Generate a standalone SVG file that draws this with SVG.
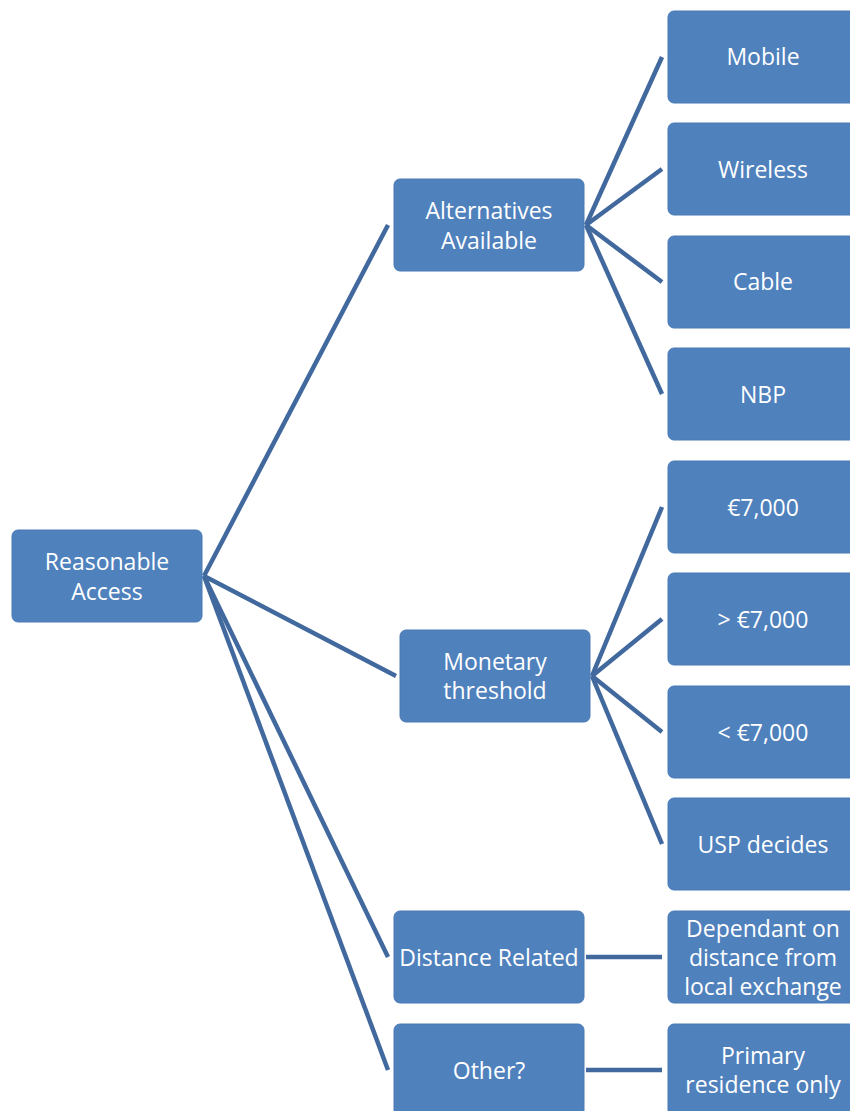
<svg xmlns="http://www.w3.org/2000/svg" width="850" height="1111" viewBox="0 0 850 1111">
<style>
.n{fill:#4f81bd;stroke:#4a7ab5;stroke-width:1}
.t{fill:#fff;font-family:"Open Sans",sans-serif;font-size:23px;text-anchor:middle;dominant-baseline:central}
.c{stroke:#41699e;stroke-width:4.5;fill:none}
</style>
<rect width="850" height="1111" fill="#fff"/>
<g id="connectors">
<line class="c" x1="204" y1="576" x2="388" y2="225"/>
<line class="c" x1="204" y1="576" x2="396" y2="676"/>
<line class="c" x1="204" y1="576" x2="388" y2="957"/>
<line class="c" x1="204" y1="576" x2="388" y2="1070"/>
<line class="c" x1="586" y1="225" x2="662" y2="57"/>
<line class="c" x1="586" y1="225" x2="662" y2="169"/>
<line class="c" x1="586" y1="225" x2="662" y2="282"/>
<line class="c" x1="586" y1="225" x2="662" y2="394"/>
<line class="c" x1="592" y1="676" x2="662" y2="507"/>
<line class="c" x1="592" y1="676" x2="662" y2="619"/>
<line class="c" x1="592" y1="676" x2="662" y2="732"/>
<line class="c" x1="592" y1="676" x2="662" y2="844"/>
<line class="c" x1="586" y1="957" x2="662" y2="957"/>
<line class="c" x1="586" y1="1070" x2="662" y2="1070"/>
</g>
<g id="root"><rect class="n" x="12" y="530" width="190" height="92" rx="6"/><text class="t" x="107" y="561">Reasonable</text><text class="t" x="107" y="591">Access</text></g>
<g id="alternatives"><rect class="n" x="394" y="179" width="190" height="92" rx="6"/><text class="t" x="489" y="210">Alternatives</text><text class="t" x="489" y="240">Available</text></g>
<g id="monetary"><rect class="n" x="400" y="630" width="190" height="92" rx="6"/><text class="t" x="495" y="661">Monetary</text><text class="t" x="495" y="690">threshold</text></g>
<g id="distance"><rect class="n" x="394" y="911" width="190" height="92" rx="6"/><text class="t" x="489" y="957">Distance Related</text></g>
<g id="other"><rect class="n" x="394" y="1024" width="190" height="92" rx="6"/><text class="t" x="489" y="1070">Other?</text></g>
<g id="mobile"><rect class="n" x="668" y="11" width="190" height="92" rx="6"/><text class="t" x="763" y="56">Mobile</text></g>
<g id="wireless"><rect class="n" x="668" y="123" width="190" height="92" rx="6"/><text class="t" x="763" y="169">Wireless</text></g>
<g id="cable"><rect class="n" x="668" y="236" width="190" height="92" rx="6"/><text class="t" x="763" y="281">Cable</text></g>
<g id="nbp"><rect class="n" x="668" y="348" width="190" height="92" rx="6"/><text class="t" x="763" y="394">NBP</text></g>
<g id="e7000"><rect class="n" x="668" y="461" width="190" height="92" rx="6"/><text class="t" x="763" y="507">€7,000</text></g>
<g id="gt7000"><rect class="n" x="668" y="573" width="190" height="92" rx="6"/><text class="t" x="763" y="619">&gt; €7,000</text></g>
<g id="lt7000"><rect class="n" x="668" y="686" width="190" height="92" rx="6"/><text class="t" x="763" y="732">&lt; €7,000</text></g>
<g id="usp"><rect class="n" x="668" y="798" width="190" height="92" rx="6"/><text class="t" x="763" y="844">USP decides</text></g>
<g id="dependant"><rect class="n" x="668" y="911" width="190" height="92" rx="6"/><text class="t" x="763" y="928">Dependant on</text><text class="t" x="763" y="957">distance from</text><text class="t" x="763" y="986">local exchange</text></g>
<g id="primary"><rect class="n" x="668" y="1024" width="190" height="92" rx="6"/><text class="t" x="763" y="1055">Primary</text><text class="t" x="763" y="1084">residence only</text></g>
</svg>
